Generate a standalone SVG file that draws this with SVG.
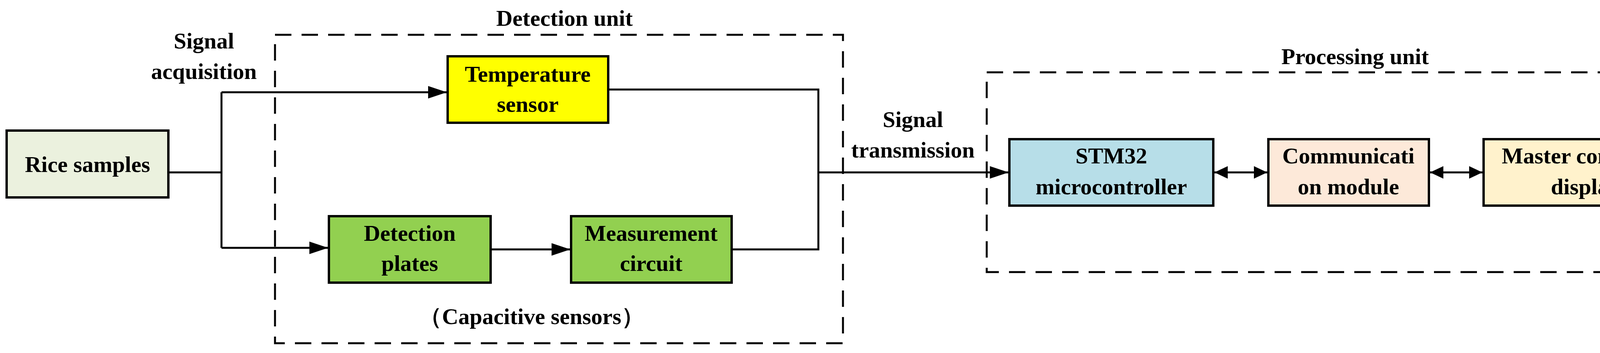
<svg xmlns="http://www.w3.org/2000/svg" width="4379" height="903" viewBox="0 0 4379 903">
<style>
text{font-family:"Liberation Serif","DejaVu Serif",serif;font-weight:bold;font-size:58px;text-anchor:middle;fill:#000}
.box{stroke:#000;stroke-width:6}
.dash{fill:none;stroke:#000;stroke-width:5;stroke-dasharray:42 26}
.ln{fill:none;stroke:#000;stroke-width:5}
</style>
<defs>
<marker id="a" viewBox="0 0 48 32" refX="48" refY="16" markerWidth="48" markerHeight="32" markerUnits="userSpaceOnUse" orient="auto-start-reverse"><path d="M0,0 L48,16 L0,32 z" fill="#000"/></marker>
<marker id="b" viewBox="0 0 34 32" refX="34" refY="16" markerWidth="34" markerHeight="32" markerUnits="userSpaceOnUse" orient="auto-start-reverse"><path d="M0,0 L34,16 L0,32 z" fill="#000"/></marker>
</defs>
<g id="detection-unit"><rect class="dash" x="704" y="89" width="1454" height="789"/><text x="1445" y="66">Detection unit</text><text x="1361" y="829">（Capacitive sensors）</text></g>
<g id="processing-unit"><rect class="dash" x="2526" y="185" width="1834" height="511"/><text x="3469" y="164">Processing unit</text></g>
<g id="labels"><text x="522" y="124">Signal</text><text x="522" y="202">acquisition</text><text x="2337" y="325">Signal</text><text x="2337" y="403">transmission</text></g>
<g id="connectors">
<path class="ln" d="M431,441 H567 M567,236 V634"/>
<path class="ln" d="M567,236 H1144" marker-end="url(#a)"/>
<path class="ln" d="M567,634 H840" marker-end="url(#a)"/>
<path class="ln" d="M1256,638 H1460" marker-end="url(#a)"/>
<path class="ln" d="M1557,229 H2095 V638 H1873"/>
<path class="ln" d="M2095,441 H2582" marker-end="url(#a)"/>
<path class="ln" d="M3109,441 H3244" marker-start="url(#b)" marker-end="url(#b)"/>
<path class="ln" d="M3661,441 H3795" marker-start="url(#b)" marker-end="url(#b)"/>
</g>
<g id="rice"><rect class="box" x="17" y="334" width="414" height="171" fill="#EBF1DE"/><text x="224" y="440">Rice samples</text></g>
<g id="temp"><rect class="box" x="1146" y="144" width="411" height="170" fill="#FFFF00"/><text x="1351" y="209">Temperature</text><text x="1351" y="286">sensor</text></g>
<g id="plates"><rect class="box" x="842" y="553" width="414" height="170" fill="#92D050"/><text x="1049" y="616">Detection</text><text x="1049" y="693">plates</text></g>
<g id="meas"><rect class="box" x="1462" y="553" width="411" height="170" fill="#92D050"/><text x="1667" y="616">Measurement</text><text x="1667" y="693">circuit</text></g>
<g id="stm"><rect class="box" x="2584" y="356" width="522" height="170" fill="#B7DEE8"/><text x="2845" y="418">STM32</text><text x="2845" y="497">microcontroller</text></g>
<g id="comm"><rect class="box" x="3247" y="356" width="411" height="170" fill="#FDE9D9"/><text x="3452" y="418">Communicati</text><text x="3452" y="497">on module</text></g>
<g id="master"><rect class="box" x="3798" y="356" width="523" height="170" fill="#FFF2CC"/><text x="4059" y="418">Master computer</text><text x="4059" y="497">display</text></g>
</svg>
